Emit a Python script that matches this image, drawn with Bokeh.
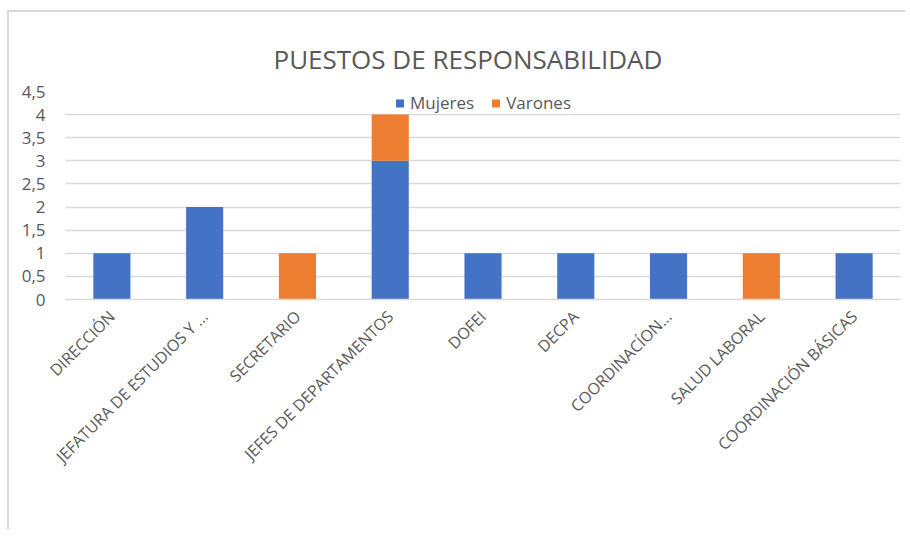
from bokeh.plotting import figure
from bokeh.models import FixedTicker, Legend, LegendItem
from bokeh.embed import file_html
from bokeh.resources import INLINE

categorias = ["DIRECCIÓN", "JEFATURA DE ESTUDIOS Y ...", "SECRETARIO",
              "JEFES DE DEPARTAMENTOS", "DOFEI", "DECPA", "COORDINACÍON...",
              "SALUD LABORAL", "COORDINACIÓN BÁSICAS"]
mujeres = [1, 2, 0, 3, 1, 1, 1, 0, 1]
varones = [0, 0, 1, 1, 0, 0, 0, 1, 0]
y_ticks = [0, 0.5, 1, 1.5, 2, 2.5, 3, 3.5, 4, 4.5]

series = ["Mujeres", "Varones"]
colores = ["#4472C4", "#ED7D31"]
data = {"cat": categorias, "Mujeres": mujeres, "Varones": varones}

p = figure(x_range=categorias, y_range=(0, 4.5),
           frame_width=835, frame_height=208,
           output_backend="svg", toolbar_location=None,
           title="PUESTOS DE RESPONSABILIDAD")
p.margin = (10, 0, 0, 7)
p.min_border_left = 56
p.min_border_right = 5
p.min_border_top = 79
p.min_border_bottom = 230
p.outline_line_color = None
p.background_fill_color = "white"
p.border_fill_color = "white"
p.styles = {"border-top": "2px solid #d9d9d9", "border-left": "2px solid #d9d9d9"}

p.title.align = "left"
p.title.offset = 208
p.title.text_font = "Open Sans"
p.title.text_font_size = "26px"
p.title.text_font_style = "normal"
p.title.text_color = "#595959"
p.title.standoff = 30

rs = p.vbar_stack(series, x="cat", width=0.4, color=colores, source=data,
                  line_color=None)

p.yaxis.ticker = FixedTicker(ticks=y_ticks)
p.yaxis.major_label_overrides = {t: (str(t).replace(".", ",") if t % 1 else str(int(t))) for t in y_ticks}
p.yaxis.axis_line_color = None
p.yaxis.major_tick_line_color = None
p.yaxis.minor_tick_line_color = None
p.yaxis.major_label_standoff = 14
p.yaxis.major_label_text_font = "Open Sans"
p.yaxis.major_label_text_font_size = "17px"
p.yaxis.major_label_text_color = "#595959"

p.xaxis.axis_line_color = "#d9d9d9"
p.xaxis.axis_line_width = 1.5
p.xaxis.major_tick_line_color = None
p.xaxis.minor_tick_line_color = None
p.xaxis.major_label_orientation = 0.785398
p.xaxis.major_label_standoff = 8
p.xaxis.major_label_text_font = "Open Sans"
p.xaxis.major_label_text_font_size = "16px"
p.xaxis.major_label_text_color = "#595959"

p.xgrid.grid_line_color = None
p.ygrid.grid_line_color = "#d9d9d9"
p.ygrid.grid_line_width = 1.5

legend = Legend(items=[LegendItem(label=s, renderers=[r]) for s, r in zip(series, rs)],
                orientation="horizontal", location="top_center")
legend.label_text_font = "Open Sans"
legend.label_text_font_size = "17px"
legend.label_text_color = "#595959"
legend.label_height = 18
legend.glyph_width = 10
legend.glyph_height = 10
legend.spacing = 16
legend.label_standoff = 6
legend.border_line_color = None
legend.background_fill_color = "white"
legend.background_fill_alpha = 1
legend.margin = 0
legend.padding = 2
p.add_layout(legend, "center")

open("out.html", "w").write(file_html(p, INLINE))
